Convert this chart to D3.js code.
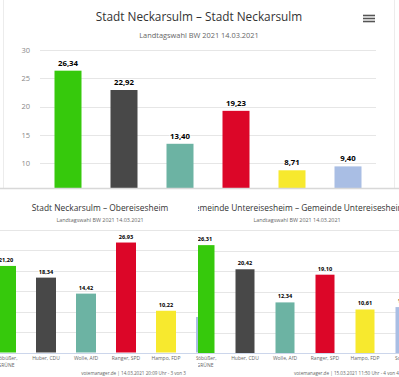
<!DOCTYPE html>
<html>
<head>
<meta charset="utf-8">
<script src="https://cdn.jsdelivr.net/npm/d3@7"></script>
<style>
  html, body { margin: 0; padding: 0; background: #fff; }
  svg { display: block; font-family: "Open Sans", "DejaVu Sans", sans-serif; }
</style>
</head>
<body>
<svg id="chart" width="399" height="377"></svg>
<script>
// candidates (same order in every municipality)
const candidates = ["Stöbüßer, GRÜNE", "Huber, CDU", "Wolle, AfD", "Ranger, SPD", "Hampo, FDP", "Sonstige"];
const partyColors = ["#36c90c", "#484848", "#6cb3a3", "#dc0628", "#f7e92e", "#a9bee4"];

// Stadt Neckarsulm
const neckarsulmValues = [26.34, 22.92, 13.40, 19.23, 8.71, 9.40];
// Obereisesheim
const obereisesheimValues = [21.20, 18.34, 14.42, 26.93, 10.22, 8.7];
// Untereisesheim
const untereisesheimValues = [26.31, 20.42, 12.34, 19.10, 10.61, 11.2];

const subtitleText = "Landtagswahl BW 2021 14.03.2021";
const yTicks = [0, 5, 10, 15, 20, 25, 30];

const de = d3.formatLocale({decimal: ",", thousands: ".", grouping: [3], currency: ["", "€"]});
const fmt = de.format(".2f");

const svg = d3.select("#chart");
const defs = svg.append("defs");

svg.append("rect").attr("width", 399).attr("height", 377).attr("fill", "#fff");

function addClip(id, x, y, w, h) {
    defs.append("clipPath").attr("id", id)
        .append("rect").attr("x", x).attr("y", y).attr("width", w).attr("height", h);
    return "url(#" + id + ")";
}

/* one highcharts-like column chart, drawn inside a clipped box */
function drawPanel(p) {
    const g = svg.append("g").attr("clip-path", addClip(p.id, p.clip[0], p.clip[1], p.clip[2], p.clip[3]));

    const x = d3.scaleBand().domain(candidates)
        .range(p.xRange).paddingInner(0.5).paddingOuter(0.25);
    const y = d3.scaleLinear().domain([0, 30]).range(p.yRange);

    // grid
    g.append("g").selectAll("line").data(yTicks.slice(1)).join("line")
        .attr("x1", p.gridX[0]).attr("x2", p.gridX[1])
        .attr("y1", d => Math.round(y(d)) + 0.5).attr("y2", d => Math.round(y(d)) + 0.5)
        .attr("stroke", "#e6e6e6").attr("stroke-width", 1);

    if (p.showYAxis) {
        const ax = g.append("g").attr("transform", "translate(" + p.gridX[0] + ",0)")
            .call(d3.axisLeft(y).tickValues(yTicks).tickSize(0).tickPadding(10));
        ax.select(".domain").remove();
        ax.selectAll("text").attr("fill", "#888").attr("font-size", p.tickFont).attr("font-family", "Open Sans");
    }

    // bars
    g.append("g").selectAll("rect").data(p.values).join("rect")
        .attr("x", (d, i) => x(candidates[i]) + p.barInset)
        .attr("width", x.bandwidth() - p.barInset * 2)
        .attr("y", d => y(d))
        .attr("height", d => y(0) - y(d))
        .attr("fill", (d, i) => partyColors[i]);

    // data labels
    g.append("g").selectAll("text").data(p.values).join("text")
        .attr("x", (d, i) => x(candidates[i]) + x.bandwidth() / 2)
        .attr("y", d => y(d) - p.labelGap)
        .attr("text-anchor", "middle")
        .attr("font-size", p.labelFont).attr("font-weight", "bold")
        .attr("fill", "#000").attr("stroke", "#fff").attr("stroke-width", 1.5)
        .attr("paint-order", "stroke")
        .text(d => fmt(d));

    if (p.showXAxis) {
        g.append("line").attr("x1", p.gridX[0]).attr("x2", p.gridX[1])
            .attr("y1", Math.round(y(0)) + 0.5).attr("y2", Math.round(y(0)) + 0.5)
            .attr("stroke", "#ccd6eb");
        const lab = g.append("g").selectAll("text").data(candidates).join("text")
            .attr("x", d => x(d) + x.bandwidth() / 2)
            .attr("y", y(0) + 7)
            .attr("text-anchor", "middle")
            .attr("font-size", p.catFont).attr("fill", "#666");
        lab.each(function (d) {
            const parts = d.length > 12 ? d.replace(", ", ",|").split("|") : [d];
            const t = d3.select(this);
            parts.forEach((s, k) => {
                t.append("tspan").attr("x", t.attr("x")).attr("dy", k === 0 ? 0 : 7).text(s);
            });
        });
    }

    // titles
    g.append("text").attr("x", p.titleX).attr("y", p.titleY)
        .attr("text-anchor", "middle").attr("font-size", p.titleFont).attr("fill", "#333")
        .text(p.title);
    g.append("text").attr("x", p.titleX).attr("y", p.subY)
        .attr("text-anchor", "middle").attr("font-size", p.subFont).attr("fill", "#666")
        .text(subtitleText);

    if (p.footer) {
        g.append("text").attr("x", p.footer[1]).attr("y", p.footer[2])
            .attr("text-anchor", p.footer[3]).attr("font-size", 4.6).attr("fill", "#666")
            .text(p.footer[0]);
    }
    return g;
}

// top screenshot
const topPanel = drawPanel({
    id: "clipTop", clip: [0, 0, 399, 188],
    values: neckarsulmValues,
    xRange: [40, 376], yRange: [219.5, 50], gridX: [40, 376],
    barInset: 0.5,
    showYAxis: true, tickFont: 7.5,
    labelFont: 7.8, labelGap: 5,
    title: "Stadt Neckarsulm \u2013 Stadt Neckarsulm", titleX: 199, titleY: 21, titleFont: 11.8,
    subY: 38, subFont: 7.4
});
// frame lines of the top screenshot
topPanel.append("line").attr("x1", 3.5).attr("x2", 3.5).attr("y1", 0).attr("y2", 188).attr("stroke", "#ececec");
topPanel.append("line").attr("x1", 394.5).attr("x2", 394.5).attr("y1", 0).attr("y2", 188).attr("stroke", "#ececec");
// menu icon
topPanel.append("g").selectAll("line").data([0, 1, 2]).join("line")
    .attr("x1", 363).attr("x2", 375)
    .attr("y1", d => 15.5 + d * 3).attr("y2", d => 15.5 + d * 3)
    .attr("stroke", "#555").attr("stroke-width", 1.6);

svg.append("line").attr("x1", 0).attr("x2", 399).attr("y1", 188.5).attr("y2", 188.5)
    .attr("stroke", "#d8d8d8").attr("stroke-width", 1.5);

// bottom left screenshot
drawPanel({
    id: "clipLeft", clip: [0, 190, 198, 187],
    values: obereisesheimValues,
    xRange: [-14, 226], yRange: [352.5, 230], gridX: [-14, 226],
    barInset: 0,
    showYAxis: false,
    labelFont: 5.6, labelGap: 4,
    showXAxis: true, catFont: 5,
    title: "Stadt Neckarsulm \u2013 Obereisesheim", titleX: 100, titleY: 211, titleFont: 8.4,
    subY: 222, subFont: 5.4,
    footer: ["votemanager.de | 14.03.2021 20:09 Uhr - 3 von 3", 186, 375, "end"]
});

// bottom right screenshot
drawPanel({
    id: "clipRight", clip: [198, 190, 201, 187],
    values: untereisesheimValues,
    xRange: [185, 425], yRange: [353, 230], gridX: [185, 425],
    barInset: 0.5,
    showYAxis: false,
    labelFont: 5.6, labelGap: 4,
    showXAxis: true, catFont: 5,
    title: "Gemeinde Untereisesheim \u2013 Gemeinde Untereisesheim", titleX: 297, titleY: 211, titleFont: 8.4,
    subY: 222, subFont: 5.4,
    footer: ["votemanager.de | 15.03.2021 11:50 Uhr - 4 von 4", 294, 375, "start"]
});
</script>
</body>
</html>
